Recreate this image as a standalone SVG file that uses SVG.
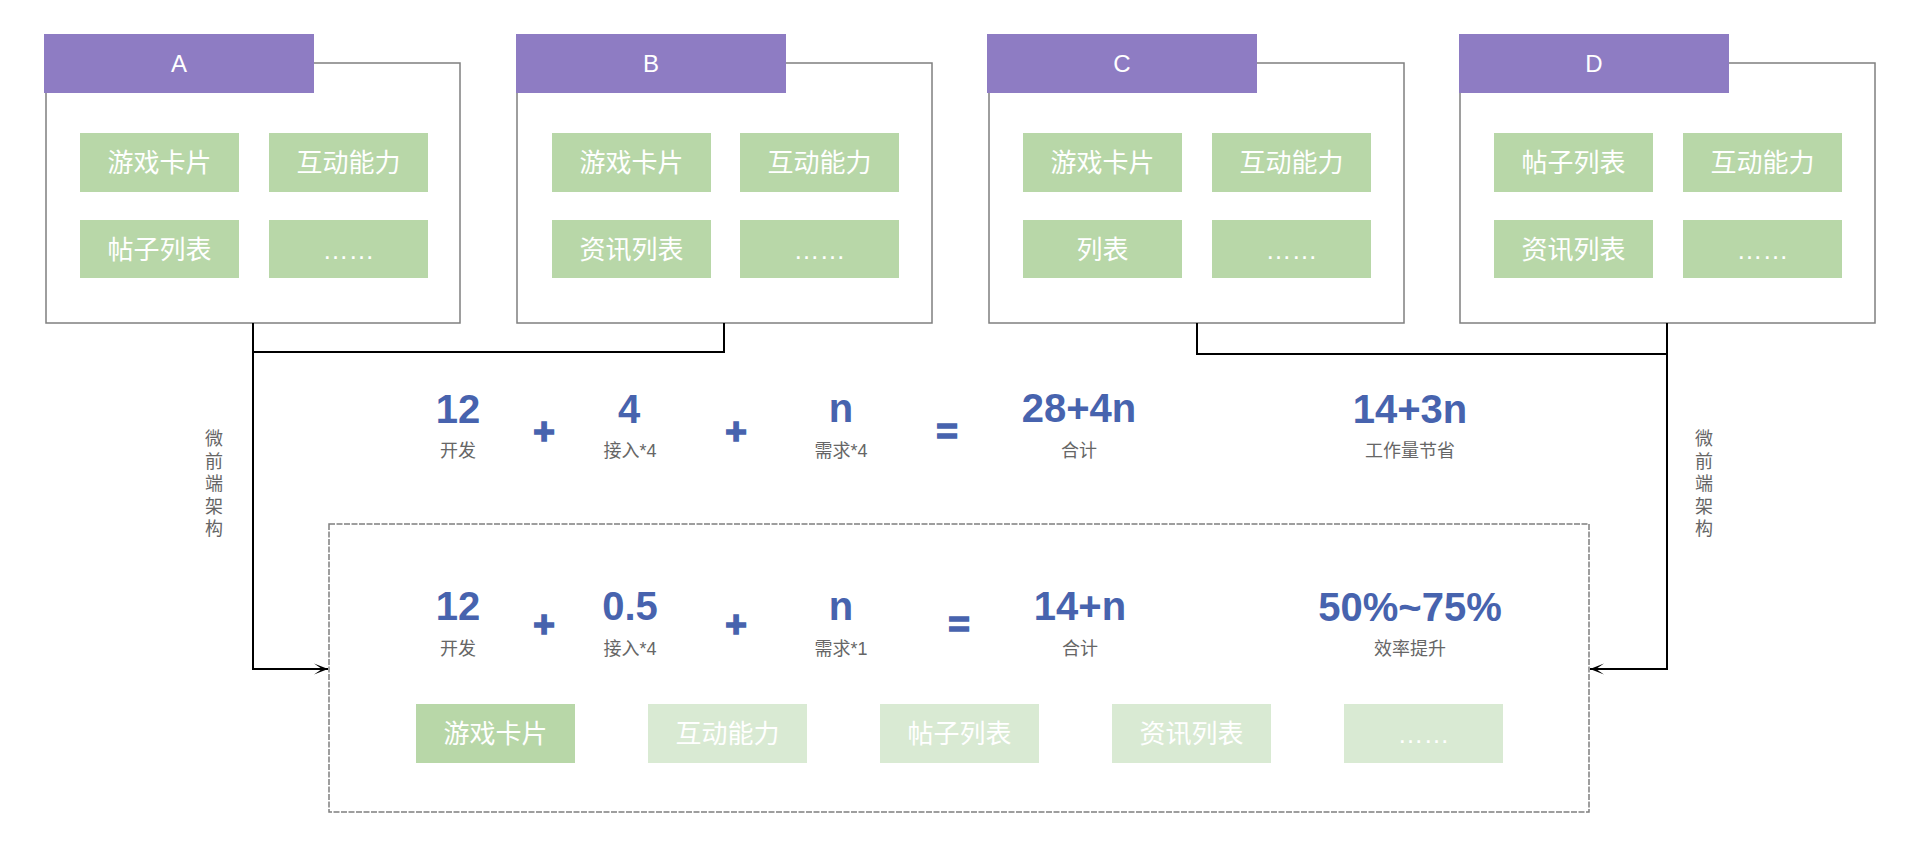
<svg xmlns="http://www.w3.org/2000/svg" width="1919" height="848" viewBox="0 0 1919 848">
<style>
.outer{fill:#ffffff;stroke:#7f7f7f;stroke-width:1.5}
.hdr{fill:#8e7cc3}
.hdrt{font-family:"Liberation Sans",Arial,sans-serif;font-size:24px;fill:#ffffff;text-anchor:middle}
.g{fill:#b8d7a8}
.gl{fill:#d9ead3}
.gt{font-family:"Noto Sans CJK SC","Noto Sans",sans-serif;font-size:26px;fill:#ffffff;text-anchor:middle}
.dots{font-family:"Liberation Sans",Arial,sans-serif;font-size:26px;fill:#ffffff;text-anchor:middle}
.num{font-family:"Liberation Sans",Arial,sans-serif;font-size:40px;font-weight:bold;fill:#4763ae;text-anchor:middle}
.op{font-family:"Liberation Sans",Arial,sans-serif;font-size:37px;font-weight:bold;fill:#4763ae;stroke:#4763ae;stroke-width:1.6;text-anchor:middle}
.lbl{font-family:"Liberation Sans","Noto Sans CJK SC",sans-serif;font-size:18px;fill:#666666;text-anchor:middle}
.vt{font-family:"Noto Sans CJK SC",sans-serif;font-size:18px;fill:#666666;text-anchor:middle}
.conn{fill:none;stroke:#000000;stroke-width:2}
.dash{fill:#ffffff;stroke:#7f7f7f;stroke-width:1.5;stroke-dasharray:6 1.5}
</style>
<defs>
<marker id="arr" markerUnits="userSpaceOnUse" markerWidth="16" markerHeight="12" refX="15" refY="6" orient="auto">
<path d="M1,0.5 L15,6 L1,11.5 L9,6 Z" fill="#000000"/>
</marker>
</defs>
<rect width="1919" height="848" fill="#ffffff"/>

<g id="nodeA">
<rect class="outer" x="46" y="63" width="414" height="260"/>
<rect class="hdr" x="44" y="34" width="270" height="59"/>
<text class="hdrt" x="179" y="72">A</text>
<rect class="g" x="80" y="133" width="159" height="59"/><text class="gt" x="159.5" y="172">游戏卡片</text>
<rect class="g" x="269" y="133" width="159" height="59"/><text class="gt" x="348.5" y="172">互动能力</text>
<rect class="g" x="80" y="220" width="159" height="58"/><text class="gt" x="159.5" y="259">帖子列表</text>
<rect class="g" x="269" y="220" width="159" height="58"/><text class="dots" x="348.5" y="259">……</text>
</g>

<g id="nodeB">
<rect class="outer" x="517" y="63" width="415" height="260"/>
<rect class="hdr" x="516" y="34" width="270" height="59"/>
<text class="hdrt" x="651" y="72">B</text>
<rect class="g" x="552" y="133" width="159" height="59"/><text class="gt" x="631.5" y="172">游戏卡片</text>
<rect class="g" x="740" y="133" width="159" height="59"/><text class="gt" x="819.5" y="172">互动能力</text>
<rect class="g" x="552" y="220" width="159" height="58"/><text class="gt" x="631.5" y="259">资讯列表</text>
<rect class="g" x="740" y="220" width="159" height="58"/><text class="dots" x="819.5" y="259">……</text>
</g>

<g id="nodeC">
<rect class="outer" x="989" y="63" width="415" height="260"/>
<rect class="hdr" x="987" y="34" width="270" height="59"/>
<text class="hdrt" x="1122" y="72">C</text>
<rect class="g" x="1023" y="133" width="159" height="59"/><text class="gt" x="1102.5" y="172">游戏卡片</text>
<rect class="g" x="1212" y="133" width="159" height="59"/><text class="gt" x="1291.5" y="172">互动能力</text>
<rect class="g" x="1023" y="220" width="159" height="58"/><text class="gt" x="1102.5" y="259">列表</text>
<rect class="g" x="1212" y="220" width="159" height="58"/><text class="dots" x="1291.5" y="259">……</text>
</g>

<g id="nodeD">
<rect class="outer" x="1460" y="63" width="415" height="260"/>
<rect class="hdr" x="1459" y="34" width="270" height="59"/>
<text class="hdrt" x="1594" y="72">D</text>
<rect class="g" x="1494" y="133" width="159" height="59"/><text class="gt" x="1573.5" y="172">帖子列表</text>
<rect class="g" x="1683" y="133" width="159" height="59"/><text class="gt" x="1762.5" y="172">互动能力</text>
<rect class="g" x="1494" y="220" width="159" height="58"/><text class="gt" x="1573.5" y="259">资讯列表</text>
<rect class="g" x="1683" y="220" width="159" height="58"/><text class="dots" x="1762.5" y="259">……</text>
</g>

<g id="formula-old">
<text class="num" x="458" y="423">12</text><text class="lbl" x="458" y="457">开发</text>
<text class="op" x="544" y="444">+</text>
<text class="num" x="629" y="423">4</text><text class="lbl" x="630" y="457">接入*4</text>
<text class="op" x="736" y="444">+</text>
<text class="num" x="841" y="422">n</text><text class="lbl" x="841" y="457">需求*4</text>
<text class="op" x="947" y="444">=</text>
<text class="num" x="1079" y="422">28+4n</text><text class="lbl" x="1079" y="457">合计</text>
<text class="num" x="1410" y="423">14+3n</text><text class="lbl" x="1410" y="457">工作量节省</text>
</g>

<g id="platform">
<rect class="dash" x="329" y="524" width="1260" height="288"/>
<text class="num" x="458" y="620">12</text><text class="lbl" x="458" y="655">开发</text>
<text class="op" x="544" y="637">+</text>
<text class="num" x="630" y="620">0.5</text><text class="lbl" x="630" y="655">接入*4</text>
<text class="op" x="736" y="637">+</text>
<text class="num" x="841" y="620">n</text><text class="lbl" x="841" y="655">需求*1</text>
<text class="op" x="959" y="637">=</text>
<text class="num" x="1080" y="620">14+n</text><text class="lbl" x="1080" y="655">合计</text>
<text class="num" x="1410" y="621">50%~75%</text><text class="lbl" x="1410" y="655">效率提升</text>
<rect class="g" x="416" y="704" width="159" height="59"/><text class="gt" x="495.5" y="743">游戏卡片</text>
<rect class="gl" x="648" y="704" width="159" height="59"/><text class="gt" x="727.5" y="743">互动能力</text>
<rect class="gl" x="880" y="704" width="159" height="59"/><text class="gt" x="959.5" y="743">帖子列表</text>
<rect class="gl" x="1112" y="704" width="159" height="59"/><text class="gt" x="1191.5" y="743">资讯列表</text>
<rect class="gl" x="1344" y="704" width="159" height="59"/><text class="dots" x="1423.5" y="743">……</text>
</g>

<g id="connectors">
<path class="conn" d="M724,323 V352 H253"/>
<path class="conn" d="M253,323 V669 H328" marker-end="url(#arr)"/>
<path class="conn" d="M1197,323 V354 H1667"/>
<path class="conn" d="M1667,323 V669 H1590" marker-end="url(#arr)"/>
<g id="label-left">
<text class="vt" x="214" y="445">微</text>
<text class="vt" x="214" y="467.5">前</text>
<text class="vt" x="214" y="490">端</text>
<text class="vt" x="214" y="512.5">架</text>
<text class="vt" x="214" y="535">构</text>
</g>
<g id="label-right">
<text class="vt" x="1704" y="445">微</text>
<text class="vt" x="1704" y="467.5">前</text>
<text class="vt" x="1704" y="490">端</text>
<text class="vt" x="1704" y="512.5">架</text>
<text class="vt" x="1704" y="535">构</text>
</g>
</g>
</svg>
